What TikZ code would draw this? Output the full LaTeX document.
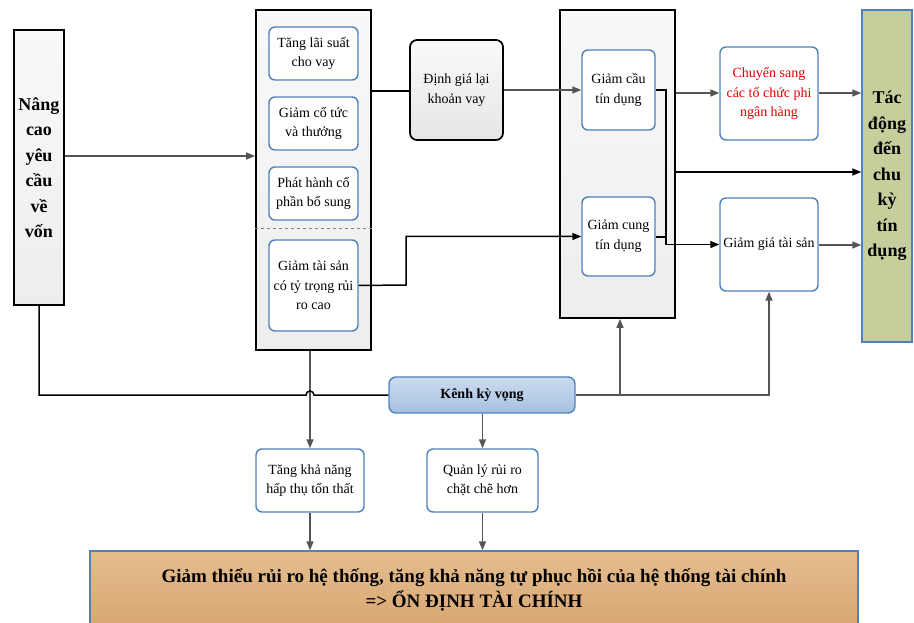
\documentclass[tikz,border=0pt]{standalone}
\usepackage{fontspec}
\setmainfont{Liberation Serif}
\usetikzlibrary{arrows.meta}
\definecolor{bluebd}{HTML}{4F81BD}
\definecolor{garr}{HTML}{555555}
\definecolor{redtxt}{HTML}{E00000}
\begin{document}
\begin{tikzpicture}[x=1pt,y=-1pt,
  cont/.style={draw=black, line width=1.7pt, top color=gray!5, bottom color=gray!14, inner sep=0pt},
  ibox/.style={draw=bluebd, line width=1.4pt, rounded corners=6pt, fill=white, align=center,
    font=\fontsize{14}{19.5}\selectfont, inner sep=0pt},
  tallbox/.style={align=center, inner sep=0pt, font=\fontsize{18}{25.5}\selectfont\bfseries},
  garrow/.style={draw=garr, line width=1.5pt, -{Triangle[length=9pt,width=7pt]}},
  barrow/.style={draw=black, line width=1.5pt, -{Triangle[length=9pt,width=7pt]}},
  bline/.style={draw=black, line width=1.5pt},
]
\useasboundingbox (0,0) rectangle (914,623);

% boxes
\node[cont, tallbox, minimum width=50pt, minimum height=275pt] (left) at (39,167.5)
  {Nâng\\cao\\yêu\\cầu\\về\\vốn};
\node[cont, minimum width=115pt, minimum height=340pt] (cont1) at (313.5,180) {};
\node[ibox, minimum width=89pt, minimum height=53pt] (b1) at (313.5,53.5) {Tăng lãi suất\\cho vay};
\node[ibox, minimum width=89pt, minimum height=53pt] (b2) at (313.5,123.5) {Giảm cổ tức\\và thưởng};
\node[ibox, minimum width=89pt, minimum height=53pt] (b3) at (313.5,193.5) {Phát hành cổ\\phần bổ sung};
\node[ibox, minimum width=89pt, minimum height=91pt] (b4) at (313.5,285.5) {Giảm tài sản\\có tỷ trọng rủi\\ro cao};
\coordinate (d229) at (0,229);
\draw[dashed, draw=gray, line width=1pt] (cont1.west |- d229) -- (cont1.east |- d229);

\node[draw=black, line width=1.7pt, rounded corners=7pt, top color=gray!4, bottom color=gray!20,
  align=center, font=\fontsize{14}{19.5}\selectfont, inner sep=0pt,
  minimum width=93pt, minimum height=100pt] (dinh) at (456.5,90) {Định giá lại\\khoản vay};

\node[cont, minimum width=115pt, minimum height=308pt] (cont2) at (617.5,164) {};
\node[ibox, minimum width=73pt, minimum height=80pt] (cau) at (618.5,90) {Giảm cầu\\tín dụng};
\node[ibox, minimum width=73pt, minimum height=79pt] (cung) at (618.5,236.5) {Giảm cung\\tín dụng};

\node[ibox, text=redtxt, minimum width=98pt, minimum height=93pt] (chuyen) at (769,93.5)
  {Chuyển sang\\các tổ chức phi\\ngân hàng};
\node[ibox, minimum width=98pt, minimum height=93pt] (giagia) at (769,244.5) {Giảm giá tài sản};

\node[draw=bluebd, line width=1.4pt, fill={rgb,255:red,198;green,206;blue,156}, tallbox,
  minimum width=50pt, minimum height=332pt] (tacdong) at (887,176)
  {Tác\\động\\đến\\chu\\kỳ\\tín\\dụng};

\node[draw=bluebd, line width=1.4pt, rounded corners=7pt,
  top color={rgb,255:red,204;green,219;blue,238}, bottom color={rgb,255:red,166;green,192;blue,224},
  font=\fontsize{14}{16}\selectfont\bfseries, inner sep=0pt,
  minimum width=186pt, minimum height=36pt] (kenh) at (482,395) {Kênh kỳ vọng};

\node[ibox, minimum width=108pt, minimum height=63pt] (tang) at (310,480.5) {Tăng khả năng\\hấp thụ tổn thất};
\node[ibox, minimum width=111pt, minimum height=63pt] (quanly) at (482.5,480.5) {Quản lý rủi ro\\chặt chẽ hơn};

\node[draw=bluebd, line width=1.4pt,
  top color={rgb,255:red,228;green,189;blue,142}, bottom color={rgb,255:red,216;green,166;blue,114},
  align=center, font=\fontsize{19}{25}\selectfont\bfseries, inner sep=0pt,
  minimum width=768pt, minimum height=78pt] (bottom) at (474,590)
  {Giảm thiểu rủi ro hệ thống, tăng khả năng tự phục hồi của hệ thống tài chính\\=> ỔN ĐỊNH TÀI CHÍNH};

% level coordinates
\coordinate (y156) at (0,156);
\coordinate (y91) at (0,91);
\coordinate (y93) at (0,93);
\coordinate (y172) at (0,172);
\coordinate (y237) at (0,237);
\coordinate (y245) at (0,245);
\coordinate (x406) at (406,285);
\coordinate (x666) at (666,90);
\coordinate (x620) at (620,395);
\coordinate (hopL) at (306,395);

% connectors
\draw[garrow] (left.east |- y156) -- (cont1.west |- y156);
\draw[bline] (cont1.east |- y91) -- (dinh.west |- y91);
\draw[garrow] (dinh.east) -- (cau.west);
\draw[barrow] (b4.east) -- (x406) |- (cung.west);
\draw[barrow] (cau.east) -- (x666) |- (giagia.west);
\draw[bline] (cung.east |- y237) -- (x666 |- y237);
\draw[garrow] (cont2.east |- y93) -- (chuyen.west |- y93);
\draw[garrow] (chuyen.east |- y93) -- (tacdong.west |- y93);
\draw[barrow] (cont2.east |- y172) -- (tacdong.west |- y172);
\draw[garrow] (giagia.east |- y245) -- (tacdong.west |- y245);

\draw[garrow] (tang.north |- cont1.south) -- (tang.north);
\draw[bline] (left.south) |- (hopL) arc[start angle=180, end angle=360, radius=4] -- (kenh.west);
\draw[garrow] (kenh.east) -| (giagia.south);
\draw[garrow] (x620) -- (x620 |- cont2.south);
\draw[garrow] (quanly.north |- kenh.south) -- (quanly.north);
\draw[garrow] (tang.south) -- (tang.south |- bottom.north);
\draw[garrow] (quanly.south) -- (quanly.south |- bottom.north);
\end{tikzpicture}
\end{document}
